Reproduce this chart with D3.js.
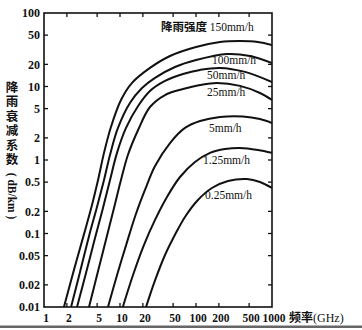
<!DOCTYPE html>
<html><head><meta charset="utf-8">
<script src="https://cdn.jsdelivr.net/npm/d3@7"></script>
<style>
body{margin:0;background:#fff}
svg{display:block}
</style></head><body>
<script>
// Rain attenuation coefficient vs. frequency, one curve per rain rate
const xTickValues = [1, 2, 5, 10, 20, 50, 100, 200, 500, 1000];
const xTickLabels = ["1", "2", "5", "10", "20", "50", "100", "200", "500", "1000"];
const yTickValues = [100, 50, 20, 10, 5, 2, 1, 0.5, 0.2, 0.1, 0.05, 0.02, 0.01];
const yTickLabels = ["100", "50", "20", "10", "5", "2", "1", "0.5", "0.2", "0.1", "0.05", "0.02", "0.01"];

const rainRates = ["150mm/h", "100mm/h", "50mm/h", "25mm/h", "5mm/h", "1.25mm/h", "0.25mm/h"];

// frequency (GHz) / attenuation (dB/km) for each rain rate
const freq150 = [1.83, 2.48, 3.36, 4.28, 5.14, 6.16, 7.6, 10.3, 14.4, 24.8, 45.5, 100, 207, 379, 654, 1000];
const att150  = [0.01, 0.032, 0.098, 0.244, 0.534, 1.25, 2.81, 6.55, 11.2, 17.9, 26.0, 34.5, 40.3, 41.6, 40.3, 36.7];

const freq100 = [2.27, 2.98, 3.91, 4.98, 6.16, 7.38, 9.4, 13.5, 19.5, 28.9, 52.9, 100, 256, 514, 1000];
const att100  = [0.01, 0.030, 0.092, 0.23, 0.534, 1.17, 2.73, 5.97, 9.55, 13.1, 18.4, 22.9, 27.7, 26.0, 20.9];

const freq50 = [2.72, 3.57, 4.69, 5.97, 7.39, 9.13, 12.0, 17.3, 24.8, 39.1, 67.5, 113, 207, 441, 1000];
const att50  = [0.01, 0.029, 0.087, 0.222, 0.534, 1.25, 2.73, 5.43, 8.69, 11.9, 14.8, 16.8, 17.9, 15.8, 11.5];

const freq25 = [3.91, 4.98, 6.54, 8.34, 10.3, 12.7, 17.3, 24.8, 39.1, 67.5, 113, 189, 379, 695, 1000];
const att25  = [0.01, 0.027, 0.082, 0.222, 0.534, 1.17, 2.56, 5.26, 7.66, 9.25, 10.5, 11.2, 10.2, 8.16, 6.55];

const freq5 = [6.95, 9.13, 12.4, 16.2, 21.3, 28.9, 45.5, 71.6, 113, 207, 415, 695, 1000];
const att5  = [0.01, 0.027, 0.077, 0.184, 0.391, 0.829, 1.70, 2.73, 3.39, 3.85, 3.91, 3.61, 3.19];

const freq125 = [10.9, 14.8, 20.7, 28.9, 41.5, 61.6, 97, 153, 241, 379, 654, 1000];
const att125  = [0.01, 0.027, 0.070, 0.153, 0.314, 0.587, 0.939, 1.25, 1.41, 1.46, 1.37, 1.25];

const freq025 = [22.0, 28.9, 39.1, 52.9, 71.6, 106, 162, 264, 469, 695, 1000];
const att025  = [0.01, 0.023, 0.051, 0.096, 0.168, 0.286, 0.416, 0.518, 0.551, 0.502, 0.416];

const curveFreqs = [freq150, freq100, freq50, freq25, freq5, freq125, freq025];
const curveAtts  = [att150, att100, att50, att25, att5, att125, att025];

const W = 362, H = 330;
const plot = {left: 44, right: 272, top: 13, bottom: 307};

const serif = "'Liberation Serif','Times New Roman',serif";
const cjk = "'Noto Sans CJK SC','Noto Sans CJK TC',sans-serif";

const svg = d3.select("body").append("svg").attr("width", W).attr("height", H);

const x = d3.scaleLog().domain([1, 1000]).range([plot.left, plot.right]);
const y = d3.scaleLog().domain([0.01, 100]).range([plot.bottom, plot.top]);

// frame
svg.append("rect")
  .attr("x", plot.left).attr("y", plot.top)
  .attr("width", plot.right - plot.left).attr("height", plot.bottom - plot.top)
  .attr("fill", "none").attr("stroke", "#111").attr("stroke-width", 1.6);

// inward ticks on all four sides
const tickLen = 4;
const gT = svg.append("g").attr("stroke", "#111").attr("stroke-width", 1.3);
xTickValues.slice(1, -1).forEach(v => {
  gT.append("line").attr("x1", x(v)).attr("x2", x(v)).attr("y1", plot.bottom).attr("y2", plot.bottom - tickLen);
  gT.append("line").attr("x1", x(v)).attr("x2", x(v)).attr("y1", plot.top).attr("y2", plot.top + tickLen);
});
yTickValues.slice(1, -1).forEach(v => {
  gT.append("line").attr("x1", plot.left).attr("x2", plot.left + tickLen).attr("y1", y(v)).attr("y2", y(v));
  gT.append("line").attr("x1", plot.right).attr("x2", plot.right - tickLen).attr("y1", y(v)).attr("y2", y(v));
});

// tick labels
svg.append("g").selectAll("text").data(yTickValues).join("text")
  .attr("x", plot.left - 4).attr("y", d => y(d)).attr("dy", "0.35em")
  .attr("text-anchor", "end")
  .attr("font-family", serif).attr("font-size", 12).attr("font-weight", "bold").attr("fill", "#111")
  .text((d, i) => yTickLabels[i]);

svg.append("g").selectAll("text").data(xTickValues).join("text")
  .attr("x", d => x(d) + 2).attr("y", 322)
  .attr("text-anchor", "middle")
  .attr("font-family", serif).attr("font-size", 11.5).attr("font-weight", "bold").attr("fill", "#111")
  .text((d, i) => xTickLabels[i]);

// curves
svg.append("clipPath").attr("id", "plotClip").append("rect")
  .attr("x", plot.left).attr("y", plot.top)
  .attr("width", plot.right - plot.left).attr("height", plot.bottom - plot.top);

const line = d3.line()
  .x(d => x(d[0])).y(d => y(d[1]))
  .curve(d3.curveCatmullRom.alpha(0.5));

svg.append("g").attr("clip-path", "url(#plotClip)")
  .selectAll("path").data(curveFreqs.map((fs, i) => fs.map((f, j) => [f, curveAtts[i][j]])))
  .join("path")
  .attr("d", line)
  .attr("fill", "none").attr("stroke", "#111").attr("stroke-width", 2);

// rain-rate labels
const labelPos = [[161, 30.5], [212, 64], [207, 79], [207, 96], [209, 132], [203, 164], [205, 199]];
const lab = svg.append("g").attr("font-family", serif).attr("font-size", 11.5).attr("fill", "#111");
rainRates.forEach((r, i) => {
  const t = lab.append("text").attr("x", labelPos[i][0]).attr("y", labelPos[i][1]);
  if (i === 0) {
    t.append("tspan").attr("font-family", cjk).attr("font-weight", "bold").attr("font-size", 11.5).text("降雨强度 ");
  }
  t.append("tspan").text(r);
});

// axis titles: vertical CJK title, then the rotated unit
svg.append("text")
  .attr("x", 12).attr("y", 80.5)
  .style("writing-mode", "vertical-rl")
  .style("text-orientation", "upright")
  .style("letter-spacing", "2.1px")
  .attr("font-family", cjk).attr("font-weight", "bold").attr("font-size", 12.5).attr("fill", "#111")
  .text("降雨衰减系数");
svg.append("text")
  .attr("transform", "translate(12,196) rotate(90)")
  .attr("text-anchor", "middle").attr("dy", "0.35em")
  .attr("font-family", serif).attr("font-size", 11.5).attr("font-weight", "bold").attr("fill", "#111")
  .text("( dB/km )");

const xt = svg.append("text").attr("x", 289).attr("y", 322).attr("fill", "#111").attr("font-size", 12);
xt.append("tspan").attr("font-family", cjk).attr("font-weight", "bold").text("频率");
xt.append("tspan").attr("font-family", serif).text("(GHz)");

// bottom rule
svg.append("rect").attr("x", 0).attr("y", 325.5).attr("width", W).attr("height", 2.5).attr("fill", "#666");
</script>
</body></html>
